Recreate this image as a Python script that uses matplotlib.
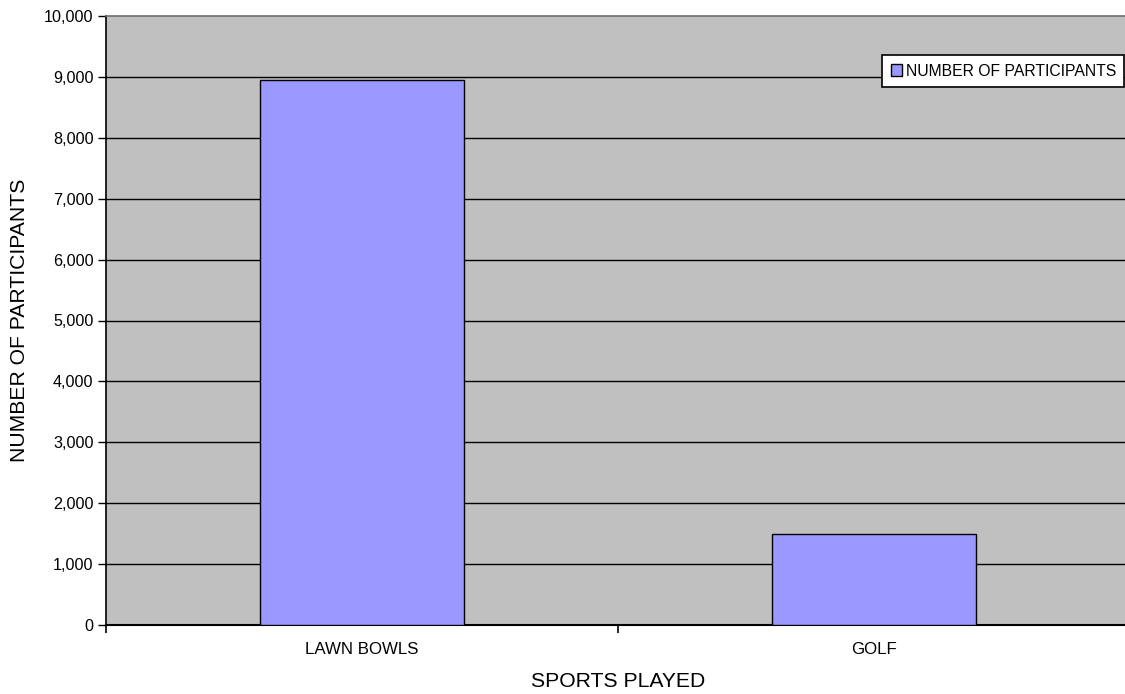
import matplotlib
matplotlib.use('Agg')
import matplotlib.pyplot as plt
from matplotlib.ticker import FuncFormatter, FixedLocator

# Data
sports = ['LAWN BOWLS', 'GOLF']
participants = [8950, 1500]
series_name = 'NUMBER OF PARTICIPANTS'

plt.rcParams['font.family'] = ['Liberation Sans', 'DejaVu Sans']

fig = plt.figure(figsize=(11.25, 6.94), dpi=100)
ax = fig.add_axes([106 / 1125, 1 - 625 / 694, 1024 / 1125, 609 / 694])
ax.set_facecolor('#C0C0C0')

x = list(range(len(sports)))
ax.bar(x, participants, width=0.4, color='#9999FF', edgecolor='black',
       linewidth=1, label=series_name, zorder=3)

ax.set_xlim(-0.5, len(sports) - 0.5)
ax.set_ylim(0, 10000)
ax.set_yticks(range(0, 10001, 1000))
ax.yaxis.set_major_formatter(FuncFormatter(lambda v, p: f'{int(v):,}'))
ax.yaxis.grid(True, color='black', linewidth=1, zorder=1)
ax.set_axisbelow(True)
# top border is the grey plot-area edge, not a black gridline
ax.yaxis.get_gridlines()[-1].set_visible(False)

# category labels at centers, tick marks between categories
ax.set_xticks(x)
ax.set_xticklabels(sports, fontsize=12.2)
ax.tick_params(axis='x', length=0, pad=12)
ax.xaxis.set_minor_locator(FixedLocator([-0.5, 0.5, 1.5]))
ax.tick_params(axis='x', which='minor', length=6, width=1.2, color='black')
ax.tick_params(axis='y', labelsize=11.6, length=6, width=1, direction='out', pad=3)

ax.spines['top'].set_color('#707070')
ax.spines['top'].set_linewidth(1.2)
ax.spines['right'].set_visible(False)
ax.spines['left'].set_linewidth(1.2)
ax.spines['bottom'].set_linewidth(1.5)

ax.set_xlabel('SPORTS PLAYED', fontsize=15.2, labelpad=11)
ax.set_ylabel('NUMBER OF PARTICIPANTS', fontsize=15.2, labelpad=11)

leg = fig.legend(loc='upper left', bbox_to_anchor=(882 / 1125, 1 - 55 / 694),
                 fontsize=11.3, frameon=True, fancybox=False, edgecolor='black',
                 handlelength=0.75, handleheight=0.75, handletextpad=0.2,
                 borderpad=0.55, borderaxespad=0)
leg.get_frame().set_linewidth(1.2)
leg.get_frame().set_facecolor('white')
leg.get_frame().set_alpha(1)

fig.savefig('out.png', dpi=100)
